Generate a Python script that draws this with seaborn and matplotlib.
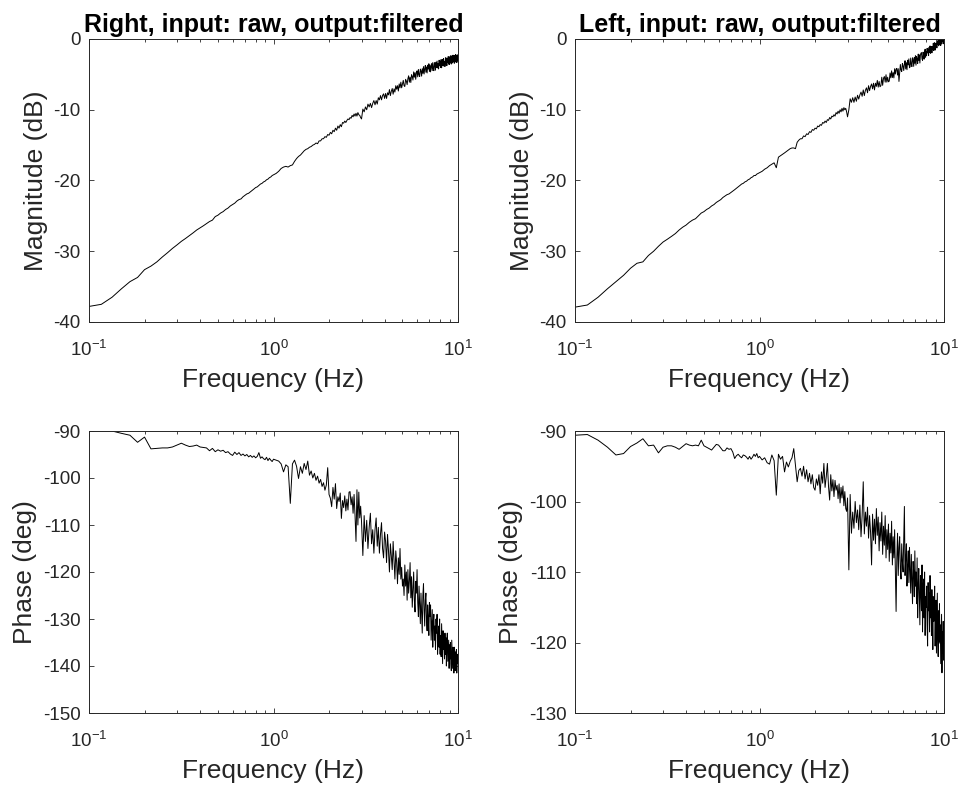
import numpy as np
import pandas as pd
import matplotlib
matplotlib.use("Agg")
import matplotlib.pyplot as plt
import seaborn as sns

# ---------------- data ----------------
# FFT bin grid (bins of 1/60 Hz): dense at low f, thinned at high f
BINS = np.r_[6:61, 62:181:2, 183:601:3]
FREQ = BINS / 60.0

# Right magnitude (dB)
RIGHT_MAG = [
    -37.8, -37.5, -36.5, -35.3, -34.3, -33.7, -32.6, -32.1, -31.5, -30.8,
    -30.2, -29.6, -29.1, -28.6, -28.2, -27.8, -27.4, -27.0, -26.7, -26.4,
    -26.1, -25.8, -25.6, -25.1, -24.9, -24.6, -24.4, -24.1, -23.9, -23.6,
    -23.4, -23.2, -22.9, -22.7, -22.6, -22.3, -22.1, -21.9, -21.8, -21.6,
    -21.4, -21.2, -21.0, -20.9, -20.7, -20.5, -20.4, -20.2, -20.1, -19.9,
    -19.8, -19.6, -19.5, -19.3, -19.2,
    -19.0, -18.7, -18.3, -18.1, -18.0, -18.1, -17.9, -17.8, -17.3, -16.9,
    -16.6, -16.4, -16.1, -15.8, -15.6, -15.5, -15.3, -15.2, -15.0, -14.9,
    -14.7, -14.8, -14.4, -14.4, -14.1, -14.1, -13.8, -13.9, -13.5, -13.6,
    -13.2, -13.4, -12.9, -13.1, -12.6, -12.9, -12.3, -12.6, -12.1, -12.4,
    -11.8, -11.9, -11.6, -11.8, -11.5, -11.3, -11.4, -11.1, -11.2, -10.8,
    -11.0, -10.6, -10.9, -10.5, -10.9, -10.4, -10.7, -10.8, -11.1, -11.3,
    -9.9, -10.3, -9.6, -10.0, -9.2, -9.6, -9.1, -9.7, -9.1, -8.7,
    -9.3, -8.7, -9.2, -8.3, -8.6, -8.0, -8.6, -8.0, -7.75, -8.4,
    -7.7, -8.4, -7.6, -7.9, -7.15, -8.0, -7.4, -7.0, -7.8, -7.05,
    -7.5, -6.6, -7.1, -6.6, -7.35, -6.35, -6.9, -6.1, -6.9, -6.35,
    -5.85, -6.6, -6.7, -5.7, -5.95, -6.45, -5.6, -5.2, -6.1, -5.4,
    -6.15, -5.05, -5.3, -5.8, -4.65, -5.4, -4.75, -5.7, -4.75, -4.5,
    -5.35, -4.3, -5.05, -5.3, -4.25, -4.5, -5.25, -4.2, -4.85, -3.9,
    -4.95, -4.2, -3.75, -4.7, -3.95, -4.8, -3.7, -4.25, -3.5, -4.6,
    -3.67, -4.65, -3.82, -3.49, -4.46, -3.33, -4.21, -4.48, -3.35, -3.73,
    -4.4, -3.27, -4.04, -3.12, -4.09, -3.46, -4.23, -3.0, -3.78, -3.15,
    -4.02, -2.9, -4.07, -3.14, -2.91, -3.79, -2.76, -3.83, -3.2, -3.88,
    -2.65, -3.52, -2.69, -3.77, -2.74, -3.31, -2.48, -3.56, -2.73, -3.6,
    -2.48, -3.37, -2.35, -3.54, -2.72, -2.41, -3.39, -2.28, -3.16, -2.45,
    -3.43, -2.32, -3.0, -2.19, -3.27, -2.36, -3.34, -2.23, -3.11, -2.4,
]

# Left magnitude (dB)
LEFT_MAG = [
    -37.9, -37.6, -36.5, -35.3, -34.3, -33.4, -32.4, -31.7, -31.5, -30.6,
    -30.0, -29.3, -28.7, -28.3, -27.9, -27.5, -27.0, -26.6, -26.3, -25.9,
    -25.6, -25.4, -25.0, -24.6, -24.4, -24.1, -23.9, -23.6, -23.4, -23.1,
    -22.9, -22.7, -22.4, -22.2, -22.0, -21.9, -21.7, -21.5, -21.3, -21.1,
    -20.9, -20.7, -20.5, -20.4, -20.2, -20.1, -19.9, -19.8, -19.6, -19.5,
    -19.3, -19.3, -19.1, -19.0, -18.9,
    -18.7, -18.4, -18.2, -17.9, -17.7, -17.5, -18.2, -16.7, -16.5, -16.3,
    -16.1, -15.9, -15.7, -15.5, -15.4, -15.4, -15.5, -14.6, -14.3, -14.1,
    -14.1, -13.7, -13.8, -13.4, -13.5, -13.1, -13.2, -12.8, -12.9, -12.6,
    -12.7, -12.3, -12.4, -12.1, -12.2, -11.8, -11.9, -11.6, -11.8, -11.4,
    -11.5, -11.1, -11.3, -10.9, -11.0, -10.7, -10.9, -10.4, -10.6, -10.2,
    -10.5, -10.0, -10.3, -9.8, -10.2, -9.7, -10.0, -9.8, -10.3, -11.0,
    -10.0, -8.45, -8.95, -8.3, -8.95, -8.2, -8.8, -7.95, -8.5, -7.9,
    -7.5, -8.1, -7.2, -8.0, -7.25, -6.9, -7.6, -6.6, -7.3, -6.7,
    -6.35, -7.05, -6.25, -7.2, -6.25, -6.7, -5.85, -6.8, -6.0, -6.75,
    -6.6, -5.4, -6.55, -5.55, -5.3, -6.1, -5.05, -6.1, -5.4, -6.05,
    -5.95, -4.8, -5.5, -4.5, -5.45, -4.75, -5.5, -4.2, -4.95, -4.25,
    -4.15, -5.1, -4.2, -6.0, -4.75, -3.6, -4.4, -4.6, -3.45, -3.8,
    -4.46, -3.56, -3.07, -4.23, -3.34, -4.34, -3.0, -3.66, -2.81, -4.07,
    -3.93, -2.69, -3.59, -3.9, -2.66, -2.96, -3.87, -2.63, -3.44, -2.34,
    -3.7, -2.46, -2.81, -3.47, -2.13, -3.03, -2.24, -3.4, -2.29, -1.99,
    -1.93, -2.83, -3.02, -1.86, -2.21, -2.85, -1.85, -1.44, -2.58, -1.78,
    -2.32, -1.32, -1.96, -1.45, -2.35, -1.19, -1.89, -0.98, -2.02, -1.37,
    -1.06, -1.96, -1.05, -1.49, -0.59, -1.63, -0.98, -0.52, -1.57, -0.66,
    -1.2, -0.55, -1.26, -0.37, -0.78, -0.14, -0.96, -0.32, -0.03, -0.84,
    -0.1, -0.91, -0.12, -0.68, 0.21, -0.36, 0.13, -0.68, -0.04, 0.4,
]

# Right phase (deg)
RIGHT_PHASE = [
    -90.0, -90.0, -90.0, -90.5, -90.9, -92.4, -91.3, -93.8, -93.7, -93.6,
    -93.6, -93.4, -93.0, -92.6, -93.0, -93.3, -93.2, -93.0, -93.4, -93.5,
    -93.6, -94.2, -93.7, -94.4, -94.0, -94.3, -94.1, -94.6, -94.4, -94.9,
    -95.2, -94.5, -95.0, -94.6, -95.2, -94.9, -95.3, -95.0, -95.5, -95.2,
    -95.6, -95.3, -95.7, -95.4, -94.6, -95.8, -95.5, -95.9, -96.1, -95.6,
    -96.3, -95.8, -96.2, -96.5, -96.0,
    -96.2, -96.4, -97.0, -98.7, -97.2, -97.6, -105.4, -97.0, -96.2, -97.5,
    -100.1, -97.6, -99.0, -96.9, -98.2, -96.4, -99.4, -98.5, -100.0, -99.0,
    -100.5, -99.6, -101.1, -100.3, -101.8, -101.0, -102.6, -101.5, -97.8, -103.5,
    -104.3, -106.1, -102.0, -104.5, -101.2, -106.5, -104.0, -105.0, -103.2, -108.6,
    -104.8, -106.3, -103.8, -107.0, -104.5, -106.8, -103.0, -102.9, -105.7, -104.0,
    -107.5, -103.5, -108.0, -113.5, -102.5, -110.0, -103.0, -108.5, -106.0, -109.3,
    -116.5, -108.0, -113.5, -109.0, -115.0, -110.5, -107.5, -114.0, -111.0, -116.0,
    -111.0, -108.5, -114.5, -110.5, -116.0, -112.0, -109.5, -115.0, -117.0, -111.5,
    -113.5, -118.0, -112.0, -115.5, -120.0, -114.0, -116.5, -119.5, -113.5, -117.5,
    -121.5, -115.5, -118.0, -122.5, -117.0, -120.5, -115.0, -121.5, -119.0, -123.0,
    -121.5, -125.0, -118.5, -123.0, -120.0, -126.0, -119.5, -124.5, -122.0, -118.0,
    -125.5, -121.0, -127.5, -123.5, -120.0, -126.0, -128.5, -122.0, -124.5, -119.5,
    -126.5, -129.5, -123.0, -127.0, -131.0, -124.5, -128.5, -133.0, -125.0, -122.5,
    -128.0, -131.5, -126.0, -124.5, -130.0, -132.5, -127.0, -129.5, -133.5, -126.5,
    -129.5, -127.0, -134.5, -131.0, -128.0, -136.0, -130.5, -129.0, -134.5, -131.5,
    -136.5, -130.0, -133.0, -129.0, -137.5, -134.0, -131.5, -136.0, -130.0, -137.5,
    -133.5, -138.0, -131.0, -135.5, -139.5, -132.5, -136.5, -134.0, -138.5, -133.0,
    -137.5, -134.0, -140.0, -135.0, -133.0, -139.0, -136.5, -134.5, -140.5, -135.5,
    -138.5, -135.0, -139.5, -141.0, -134.5, -137.5, -140.5, -136.0, -138.0, -141.5,
    -136.0, -139.5, -141.0, -137.0, -140.5, -136.5, -141.5, -138.5, -137.5, -139.5,
]

# Left phase (deg)
LEFT_PHASE = [
    -90.6, -90.5, -91.3, -92.3, -93.4, -93.2, -92.2, -91.7, -91.1, -92.1,
    -92.0, -93.1, -92.3, -92.1, -92.1, -92.3, -92.6, -92.2, -91.8, -92.0,
    -92.1, -92.0, -92.1, -91.3, -92.1, -92.3, -92.5, -92.7, -92.3, -91.9,
    -92.0, -92.4, -92.8, -92.8, -92.4, -92.6, -92.5, -93.0, -93.9, -93.5,
    -93.3, -93.6, -93.8, -93.4, -93.5, -93.7, -94.0, -93.6, -94.0, -93.7,
    -93.3, -93.6, -93.2, -93.8, -93.6,
    -94.1, -93.8, -94.5, -94.7, -93.4, -94.2, -99.1, -93.3, -94.0, -93.6,
    -95.8, -94.4, -95.1, -94.3, -93.8, -92.5, -94.9, -97.2, -95.6, -95.3,
    -96.4, -95.0, -96.8, -95.5, -97.2, -96.0, -97.5, -96.2, -98.0, -98.4,
    -96.8, -97.7, -96.2, -98.9, -95.8, -97.4, -94.6, -98.0, -96.5, -94.6,
    -97.9, -99.8, -96.2, -98.5, -96.9, -99.3, -97.0, -98.4, -97.7, -99.6,
    -97.5, -100.2, -98.0, -99.5, -97.8, -100.6, -98.6, -101.0, -101.4, -99.5,
    -109.7, -99.0, -104.5, -101.5, -103.8, -100.0, -103.0, -101.2, -104.0, -100.5,
    -105.0, -102.0, -97.2, -104.6, -101.5, -103.5, -100.8, -105.2, -102.0, -104.4,
    -109.0, -101.8, -105.5, -102.5, -106.0, -101.0, -104.8, -102.2, -107.0, -103.0,
    -105.6, -101.5, -107.5, -103.5, -106.2, -102.0, -108.0, -104.0, -106.8, -103.2,
    -108.5, -104.5, -107.3, -102.8, -109.0, -105.0, -108.0, -104.0, -110.0, -115.6,
    -108.0, -104.5, -110.5, -106.5, -105.0, -109.5, -111.0, -106.0, -108.5, -110.0,
    -105.5, -100.7, -110.5, -108.0, -106.0, -112.0, -109.0, -107.0, -111.5, -106.5,
    -109.5, -113.0, -107.5, -111.0, -114.5, -108.5, -110.0, -113.5, -107.0, -112.0,
    -110.0, -114.5, -108.0, -116.5, -112.0, -109.5, -113.5, -117.5, -110.5, -112.5,
    -115.5, -109.0, -118.5, -113.0, -111.0, -116.5, -110.0, -119.0, -113.5, -115.0,
    -112.0, -117.5, -120.5, -111.5, -115.5, -113.0, -118.5, -110.5, -116.5, -114.0,
    -119.0, -112.5, -116.0, -121.0, -113.5, -117.0, -115.0, -112.0, -120.5, -116.5,
    -114.0, -121.5, -117.0, -113.0, -119.5, -122.0, -115.5, -118.0, -114.5, -120.0,
    -117.5, -123.0, -119.0, -116.0, -124.3, -118.5, -121.5, -117.0, -122.5, -120.5,
]

TITLES = ["Right, input: raw, output:filtered", "Left, input: raw, output:filtered"]
MAG_TICKS = [-40, -30, -20, -10, 0]
RIGHT_PHASE_TICKS = [-150, -140, -130, -120, -110, -100, -90]
LEFT_PHASE_TICKS = [-130, -120, -110, -100, -90]

# ---------------- style ----------------
sns.set_theme(style="ticks")
plt.rcParams["font.family"] = ["Liberation Sans", "DejaVu Sans"]
plt.rcParams["axes.unicode_minus"] = False
plt.rcParams["mathtext.fontset"] = "custom"
plt.rcParams["mathtext.rm"] = "Liberation Sans"
plt.rcParams["mathtext.it"] = "Liberation Sans:italic"
plt.rcParams["mathtext.bf"] = "Liberation Sans:bold"

AX_COLOR = "#262626"
W, H = 958, 788
fig = plt.figure(figsize=(W / 100, H / 100), dpi=100)


def px_axes(x0, y0, x1, y1):
    return fig.add_axes([x0 / W, 1 - y1 / H, (x1 - x0) / W, (y1 - y0) / H])


panels = [
    (px_axes(89, 39, 458, 322), RIGHT_MAG, MAG_TICKS, "Magnitude (dB)", TITLES[0]),
    (px_axes(575, 39, 944, 322), LEFT_MAG, MAG_TICKS, "Magnitude (dB)", TITLES[1]),
    (px_axes(89, 431, 458, 713), RIGHT_PHASE, RIGHT_PHASE_TICKS, "Phase (deg)", None),
    (px_axes(575, 431, 944, 713), LEFT_PHASE, LEFT_PHASE_TICKS, "Phase (deg)", None),
]

for ax, vals, yticks, ylabel, title in panels:
    df = pd.DataFrame({"freq": FREQ, "val": vals})
    sns.lineplot(data=df, x="freq", y="val", ax=ax, color="black",
                 linewidth=0.7, estimator=None, sort=False)
    ax.set_xscale("log")
    ax.set_xlim(0.1, 10)
    ax.set_ylim(yticks[0], yticks[-1])
    ax.set_yticks(yticks)
    ax.set_xlabel("Frequency (Hz)", fontsize=19, color=AX_COLOR, labelpad=6)
    ax.set_ylabel(ylabel, fontsize=19, color=AX_COLOR, labelpad=4)
    ax.tick_params(which="both", direction="in", top=True, right=True,
                   colors=AX_COLOR, width=0.6)
    ax.tick_params(which="major", length=3.5, labelsize=13.5)
    ax.tick_params(axis="x", which="major", pad=13)
    ax.tick_params(axis="y", which="major", pad=6)
    ax.tick_params(which="minor", length=2.2)
    for sp in ax.spines.values():
        sp.set_color(AX_COLOR)
        sp.set_linewidth(0.7)
    if title:
        ax.set_title(title, fontsize=18, fontweight="bold", color="black", pad=5)

fig.savefig("out.png", dpi=100)
